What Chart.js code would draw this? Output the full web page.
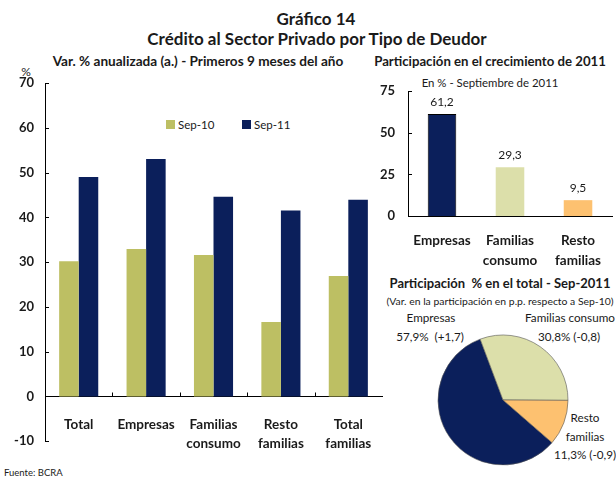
<!DOCTYPE html>
<html>
<head>
<meta charset="utf-8">
<script src="https://cdn.jsdelivr.net/npm/chart.js@4/dist/chart.umd.min.js"></script>
<style>
  html, body { margin: 0; padding: 0; background: #fff; }
  body { width: 616px; height: 479px; position: relative; overflow: hidden; font-family: Lato, "Open Sans", sans-serif; color: #1a1a1a; }
  .t { position: absolute; white-space: nowrap; transform: translate(-50%, -50%); line-height: 1; }
  .l { position: absolute; white-space: nowrap; transform: translate(0, -50%); line-height: 1; }
  .b { font-weight: bold; }
  canvas { position: absolute; }
  .sw { position: absolute; width: 9px; height: 9px; }
</style>
</head>
<body>
<div class="t b" style="left:316px;top:18px;font-size:17px;">Gráfico 14</div>
<div class="t b" style="left:317px;top:38px;font-size:17px;">Crédito al Sector Privado por Tipo de Deudor</div>
<div class="t b" style="left:198px;top:62px;font-size:13.6px;">Var. % anualizada (a.) - Primeros 9 meses del año</div>
<div class="t b" style="left:490px;top:62px;font-size:13.2px;">Participación en el crecimiento de 2011</div>
<div class="t" style="left:26px;top:72px;font-size:12px;">%</div>
<div class="t" style="left:490px;top:83px;font-size:11.4px;">En % - Septiembre de 2011</div>
<div class="t b" style="left:500px;top:283px;font-size:13px;">Participación&nbsp; % en el total - Sep-2011</div>
<div class="t" style="left:500px;top:301px;font-size:10.4px;">(Var. en la participación en p.p. respecto a Sep-10)</div>
<div id="pl0a" class="t" style="left:431px;top:318px;font-size:11.7px;"></div>
<div id="pl0b" class="t" style="left:430px;top:337px;font-size:11.7px;"></div>
<div id="pl1a" class="t" style="left:570px;top:318px;font-size:11.7px;"></div>
<div id="pl1b" class="t" style="left:569px;top:337px;font-size:11.7px;"></div>
<div id="pl2a" class="t" style="left:585px;top:418px;font-size:11.7px;"></div>
<div id="pl2b" class="t" style="left:585px;top:437px;font-size:11.7px;"></div>
<div id="pl2c" class="t" style="left:585px;top:455px;font-size:11.7px;"></div>
<div class="l" style="left:4px;top:473px;font-size:9.5px;">Fuente: BCRA</div>

<div id="leg"></div>

<canvas id="c1" width="390" height="400" style="left:0px;top:60px;width:390px;height:400px;"></canvas>
<canvas id="c2" width="256" height="205" style="left:360px;top:70px;width:256px;height:205px;"></canvas>
<canvas id="c3" width="150" height="150" style="left:428px;top:325px;width:150px;height:150px;"></canvas>

<script>
// ---- Data ----
const categories = [["Total"], ["Empresas"], ["Familias", "consumo"], ["Resto", "familias"], ["Total", "familias"]];
const seriesNames = ["Sep-10", "Sep-11"];
const sep10 = [30.2, 32.9, 31.6, 16.6, 26.9];
const sep11 = [49.0, 53.0, 44.6, 41.5, 43.9];
const yTicksLeft = [-10, 0, 10, 20, 30, 40, 50, 60, 70];

const growthCategories = [["Empresas"], ["Familias", "consumo"], ["Resto", "familias"]];
const growthShare = [61.2, 29.3, 9.5];
const yTicksRight = [0, 25, 50, 75];

const pieNames = [["Empresas"], ["Familias consumo"], ["Resto", "familias"]];
const pieShare = [57.9, 30.8, 11.3];
const pieChange = [1.7, -0.8, -0.9];

// ---- Styles ----
const NAVY = "#0b1f5b";
const OLIVE = "#bdbf63";
const LIGHT = "#dcdfaa";
const ORANGE = "#fdc170";
const FONT = "Lato, 'Open Sans', sans-serif";
const TXT = "#1a1a1a";

const fmt = v => v.toFixed(1).replace(".", ",");
const fmtSigned = v => (v > 0 ? "+" : "") + fmt(v);

// Inward tick plugin
const innerTicks = {
  id: "innerTicks",
  afterDraw(chart, args, opts) {
    const ctx = chart.ctx;
    const y = chart.scales.y;
    const x = chart.scales.x;
    const area = chart.chartArea;
    ctx.save();
    ctx.strokeStyle = "#000";
    ctx.lineWidth = 1;
    y.ticks.forEach((t, i) => {
      const py = Math.round(y.getPixelForTick(i)) + 0.5;
      ctx.beginPath();
      ctx.moveTo(area.left, py);
      ctx.lineTo(area.left + 4, py);
      ctx.stroke();
    });
    if (opts && opts.xBetween) {
      const zy = Math.round(y.getPixelForValue(0)) + 0.5;
      for (let i = 0; i < x.ticks.length - 1; i++) {
        const px = Math.round((x.getPixelForTick(i) + x.getPixelForTick(i + 1)) / 2) + 0.5;
        ctx.beginPath();
        ctx.moveTo(px, zy);
        ctx.lineTo(px, zy - 4);
        ctx.stroke();
      }
    }
    ctx.restore();
  }
};

const tickFont = { family: FONT, size: 13, weight: "bold" };
const catFont = { family: FONT, size: 13.5, weight: "bold", lineHeight: 1.45 };

// ---- Chart 1 ----
new Chart(document.getElementById("c1"), {
  type: "bar",
  data: {
    labels: categories,
    datasets: [
      { label: seriesNames[0], data: sep10, backgroundColor: OLIVE },
      { label: seriesNames[1], data: sep11, backgroundColor: NAVY }
    ]
  },
  options: {
    responsive: false,
    animation: false,
    events: [],
    layout: { padding: { left: 0, right: 7, top: 23, bottom: 14 } },
    datasets: { bar: { categoryPercentage: 0.58, barPercentage: 1.0 } },
    plugins: { legend: { display: false }, tooltip: { enabled: false }, innerTicks: { xBetween: true } },
    scales: {
      x: {
        position: { y: 0 },
        grid: { display: false, drawTicks: false },
        border: { display: true, color: "#000", width: 1 },
        ticks: { color: TXT, font: catFont, padding: 18, maxRotation: 0, autoSkip: false },
        afterFit: s => { s.height = 0; }
      },
      y: {
        min: -10, max: 70,
        afterBuildTicks: s => { s.ticks = yTicksLeft.map(v => ({ value: v })); },
        grid: { display: false, drawTicks: false },
        border: { display: true, color: "#000", width: 1 },
        ticks: { color: TXT, font: tickFont, padding: 11 },
        afterFit: s => { s.width = 45; }
      }
    }
  },
  plugins: [innerTicks]
});

// HTML legend from dataset names
(function () {
  const leg = document.getElementById("leg");
  const pos = [166, 242];
  const cols = [OLIVE, NAVY];
  seriesNames.forEach((n, i) => {
    const sw = document.createElement("div");
    sw.className = "sw";
    sw.style.left = pos[i] + "px";
    sw.style.top = "120px";
    sw.style.background = cols[i];
    leg.appendChild(sw);
    const tx = document.createElement("div");
    tx.className = "l";
    tx.style.left = (pos[i] + 12) + "px";
    tx.style.top = "125px";
    tx.style.fontSize = "11.5px";
    tx.textContent = n;
    leg.appendChild(tx);
  });
})();

// ---- Chart 2 ----
const valueLabels = {
  id: "valueLabels",
  afterDatasetsDraw(chart) {
    const ctx = chart.ctx;
    const meta = chart.getDatasetMeta(0);
    ctx.save();
    ctx.fillStyle = TXT;
    ctx.font = "12px " + FONT;
    ctx.textAlign = "center";
    ctx.textBaseline = "middle";
    meta.data.forEach((bar, i) => {
      ctx.fillText(fmt(chart.data.datasets[0].data[i]), bar.x, bar.y - 12);
    });
    ctx.restore();
  }
};

new Chart(document.getElementById("c2"), {
  type: "bar",
  data: {
    labels: growthCategories,
    datasets: [{
      data: growthShare,
      backgroundColor: [NAVY, LIGHT, ORANGE],
      borderColor: ["#000", LIGHT, ORANGE],
      borderWidth: [1, 0, 0]
    }]
  },
  options: {
    responsive: false,
    animation: false,
    events: [],
    layout: { padding: { left: 0, right: 0, top: 21, bottom: 0 } },
    datasets: { bar: { categoryPercentage: 1.0, barPercentage: 0.42 } },
    plugins: { legend: { display: false }, tooltip: { enabled: false } },
    scales: {
      x: {
        grid: { display: false, drawTicks: false },
        border: { display: true, color: "#000", width: 1 },
        ticks: { color: TXT, font: catFont, padding: 15, maxRotation: 0, autoSkip: false },
        afterFit: s => { s.height = 59; }
      },
      y: {
        min: 0, max: 75,
        afterBuildTicks: s => { s.ticks = yTicksRight.map(v => ({ value: v })); },
        grid: { display: false, drawTicks: false },
        border: { display: true, color: "#000", width: 1 },
        ticks: { color: TXT, font: tickFont, padding: 13 },
        afterFit: s => { s.width = 48; }
      }
    }
  },
  plugins: [innerTicks, valueLabels]
});

// ---- Chart 3 (pie) ----
new Chart(document.getElementById("c3"), {
  type: "pie",
  data: {
    labels: pieNames.map(n => n.join(" ")),
    datasets: [{
      data: pieShare,
      backgroundColor: [NAVY, LIGHT, ORANGE],
      borderColor: "#555",
      borderWidth: 0.6,
      radius: 65
    }]
  },
  options: {
    responsive: false,
    animation: false,
    events: [],
    rotation: 131,
    plugins: { legend: { display: false }, tooltip: { enabled: false } }
  }
});

// Pie labels from data
const shareTxt = i => fmt(pieShare[i]) + "% (" + fmtSigned(pieChange[i]) + ")";
document.getElementById("pl0a").textContent = pieNames[0][0];
document.getElementById("pl0b").innerHTML = fmt(pieShare[0]) + "%&nbsp; (" + fmtSigned(pieChange[0]) + ")";
document.getElementById("pl1a").textContent = pieNames[1][0];
document.getElementById("pl1b").textContent = shareTxt(1);
document.getElementById("pl2a").textContent = pieNames[2][0];
document.getElementById("pl2b").textContent = pieNames[2][1];
document.getElementById("pl2c").textContent = shareTxt(2);
</script>
</body>
</html>
